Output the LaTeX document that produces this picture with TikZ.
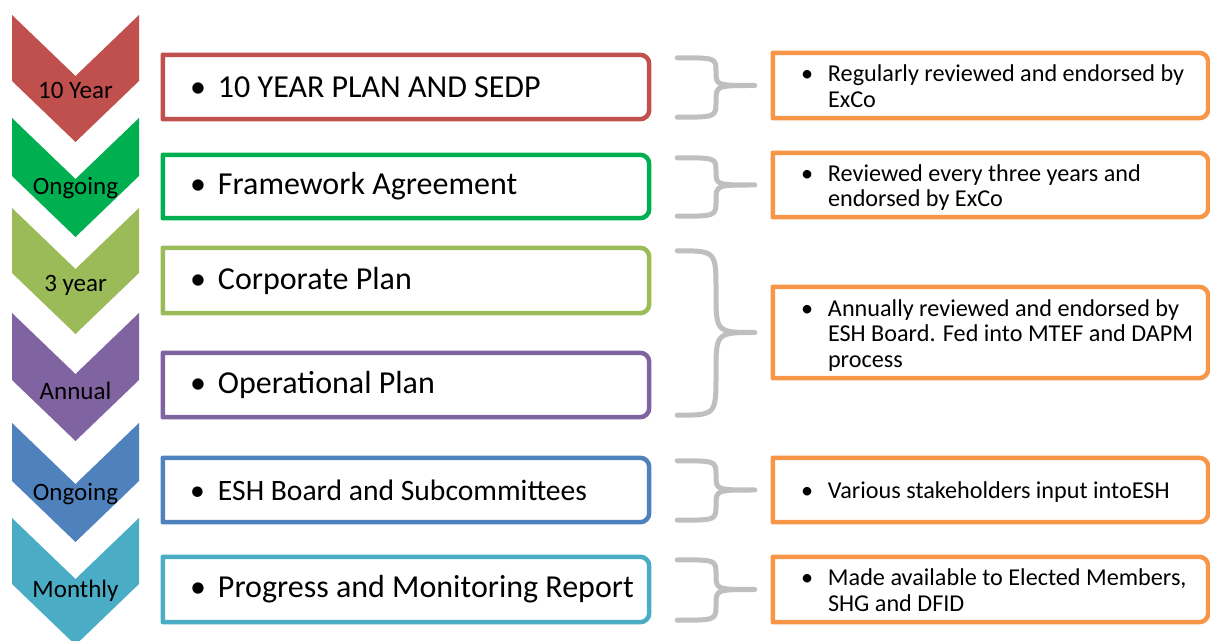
\documentclass[tikz,border=0pt]{standalone}
\usepackage{fontspec}
\setmainfont{Carlito}
\usetikzlibrary{calc}
\definecolor{cRed}{HTML}{C0504D}
\definecolor{cGreen}{HTML}{00B050}
\definecolor{cLime}{HTML}{9BBB59}
\definecolor{cPurple}{HTML}{8064A2}
\definecolor{cBlue}{HTML}{4F81BD}
\definecolor{cTeal}{HTML}{4BACC6}
\definecolor{cOrange}{HTML}{F79646}
\definecolor{cGray}{HTML}{BFBFBF}
\newcommand\chevshape[3]{% colour, top Y, height
  \fill[#1] (12,#2) -- (75.5,#2-61) -- (139,#2) -- (139,#2-#3+61) -- (75.5,#2-#3) -- (12,#2-#3+61) -- cycle;}
\newcommand\rrbox[2]{% node, colour
  \draw[#2, line width=4.5pt, line join=round] (#1.north west) -- ([xshift=-9pt]#1.north east)
    arc[start angle=90, end angle=0, radius=9pt] -- ([yshift=9pt]#1.south east)
    arc[start angle=0, end angle=-90, radius=9pt] -- (#1.south west) -- cycle;}
\newcommand\bracelink[3]{% top, bottom, tip
  \draw[bracestyle] let \p1=(#1), \p2=(#2), \p3=(#3), \n1={(\x1+\x3)/2} in
    (\p1) .. controls ({\n1},\y1) .. ({\n1},{(\y1+\y3)/2})
          .. controls ({\n1},\y3) .. (\p3)
          .. controls ({\n1},\y3) .. ({\n1},{(\y2+\y3)/2})
          .. controls ({\n1},\y2) .. (\p2);}
\tikzset{
  mainbox/.style={minimum width=486pt, minimum height=64pt, inner sep=0pt},
  sidebox/.style={minimum width=435pt, minimum height=64pt, inner sep=0pt},
  maintext/.style={anchor=west, inner sep=0pt, font=\fontsize{32}{38}\selectfont},
  sidetext/.style={anchor=west, inner sep=0pt, font=\fontsize{24.2}{25.5}\selectfont},
  chevlabel/.style={inner sep=0pt, font=\fontsize{25}{29}\selectfont},
  bracestyle/.style={cGray, line width=5pt, line cap=round, line join=round},
}
\begin{document}
\begin{tikzpicture}[x=1pt,y=1pt]
\useasboundingbox (0,0) rectangle (1210,640);
% chevrons
\chevshape{cRed}{625}{127}
\chevshape{cGreen}{522}{119}
\chevshape{cLime}{432}{126}
\chevshape{cPurple}{327}{128}
\chevshape{cBlue}{217}{119}
\chevshape{cTeal}{122}{127}
\node[chevlabel] (l1) at (75.5,550) {10 Year};
\node[chevlabel] (l2) at (75.5,452) {Ongoing};
\node[chevlabel] (l3) at (75.5,355) {3 year};
\node[chevlabel] (l4) at (75.5,249) {Annual};
\node[chevlabel] (l5) at (75.5,146) {Ongoing};
\node[chevlabel] (l6) at (75.5,49) {Monthly};
% main boxes
\node[mainbox] (b1) at (406,553) {};
\node[mainbox, minimum height=63pt] (b2) at (406,453.5) {};
\node[mainbox, minimum height=65pt] (b3) at (406,359.5) {};
\node[mainbox] (b4) at (406,255) {};
\node[mainbox] (b5) at (406,150) {};
\node[mainbox, minimum height=65pt] (b6) at (406,50.5) {};
\rrbox{b1}{cRed}
\rrbox{b2}{cGreen}
\rrbox{b3}{cLime}
\rrbox{b4}{cPurple}
\rrbox{b5}{cBlue}
\rrbox{b6}{cTeal}
\node[maintext] (t1) at ([xshift=27pt]b1.west) {\makebox[28pt][l]{\textbullet}10 YEAR PLAN AND SEDP};
\node[maintext] (t2) at ([xshift=27pt]b2.west) {\makebox[28pt][l]{\textbullet}Framework Agreement};
\node[maintext] (t3) at ([xshift=27pt]b3.west) {\makebox[28pt][l]{\textbullet}Corporate Plan};
\node[maintext] (t4) at ([xshift=27pt]b4.west) {\makebox[28pt][l]{\textbullet}Operational Plan};
\node[maintext, font=\fontsize{29.6}{35}\selectfont] (t5) at ([xshift=27pt]b5.west) {\makebox[28pt][l]{\textbullet}ESH Board and Subcommittees};
\node[maintext] (t6) at ([xshift=27pt]b6.west) {\makebox[28pt][l]{\textbullet}Progress and Monitoring Report};
% side boxes
\node[sidebox, minimum height=65pt] (r1) at (990.5,554.5) {};
\node[sidebox] (r2) at (990.5,455) {};
\node[sidebox, minimum height=91pt] (r3) at (990.5,307.5) {};
\node[sidebox] (r5) at (990.5,150) {};
\node[sidebox, minimum height=65pt] (r6) at (990.5,50.5) {};
\rrbox{r1}{cOrange}
\rrbox{r2}{cOrange}
\rrbox{r3}{cOrange}
\rrbox{r5}{cOrange}
\rrbox{r6}{cOrange}
\node[sidetext] (s1) at ([xshift=28pt,yshift=-4pt]r1.west) {\begin{tabular}{@{}p{27pt}@{}l@{}}\textbullet & Regularly reviewed and endorsed by\\ & ExCo\end{tabular}};
\node[sidetext] (s2) at ([xshift=28pt,yshift=-4pt]r2.west) {\begin{tabular}{@{}p{27pt}@{}l@{}}\textbullet & Reviewed every three years and\\ & endorsed by ExCo\end{tabular}};
\node[sidetext] (s3) at ([xshift=28pt,yshift=-4pt]r3.west) {\begin{tabular}{@{}p{27pt}@{}l@{}}\textbullet & Annually reviewed and endorsed by\\ & ESH Board. Fed into MTEF and DAPM\\ & process\end{tabular}};
\node[sidetext] (s5) at ([xshift=28pt,yshift=-3pt]r5.west) {\begin{tabular}{@{}p{27pt}@{}l@{}}\textbullet & Various stakeholders input intoESH\end{tabular}};
\node[sidetext] (s6) at ([xshift=28pt,yshift=-4pt]r6.west) {\begin{tabular}{@{}p{27pt}@{}l@{}}\textbullet & Made available to Elected Members,\\ & SHG and DFID\end{tabular}};
% braces
\bracelink{$(b1.north east)+(28,-3)$}{$(b1.south east)+(28,2)$}{$(r1.west)+(-18,0)$}
\bracelink{$(b2.north east)+(28,-3)$}{$(b2.south east)+(28,2)$}{$(r2.west)+(-18,0)$}
\bracelink{$(b3.north east)+(28,-3)$}{$(b4.south east)+(28,2)$}{$(r3.west)+(-18,0)$}
\bracelink{$(b5.north east)+(28,-3)$}{$(b5.south east)+(28,2)$}{$(r5.west)+(-18,0)$}
\bracelink{$(b6.north east)+(28,-3)$}{$(b6.south east)+(28,2)$}{$(r6.west)+(-18,0)$}
\end{tikzpicture}
\end{document}
